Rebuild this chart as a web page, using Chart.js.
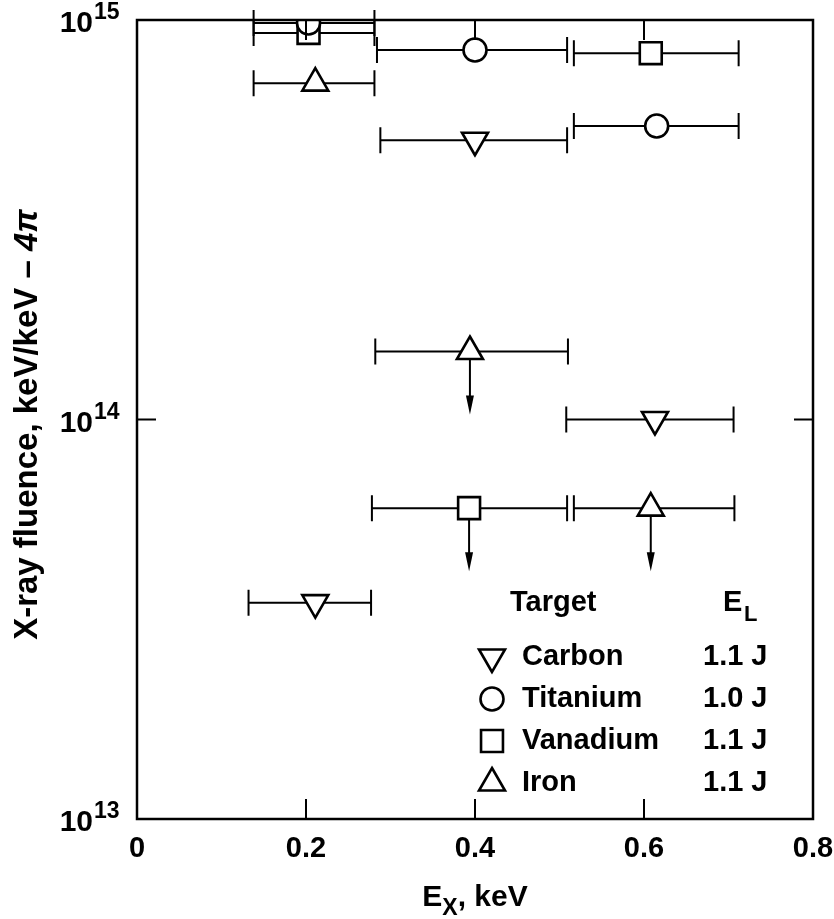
<!DOCTYPE html>
<html>
<head>
<meta charset="utf-8">
<script src="https://cdn.jsdelivr.net/npm/chart.js@4.4.1/dist/chart.umd.min.js"></script>
<style>
    html, body { margin: 0; padding: 0; background: #fff; }
</style>
</head>
<body>
<canvas id="myChart" width="834" height="919"></canvas>
<script>
// data (x in keV, y in keV/keV-4pi)
const xTicks = [0, 0.2, 0.4, 0.6, 0.8];
const yExponents = [13, 14, 15];

const targets = ['Carbon', 'Titanium', 'Vanadium', 'Iron'];
const laserEnergy = ['1.1 J', '1.0 J', '1.1 J', '1.1 J'];

const carbonX    = [0.211, 0.400, 0.613];
const carbonY    = [3.48e13, 5.0e14, 1.0e14];
const carbonXMin = [0.132, 0.288, 0.508];
const carbonXMax = [0.277, 0.509, 0.706];
const carbonLimit = [false, false, false];

const titaniumX    = [0.203, 0.400, 0.615];
const titaniumY    = [9.83e14, 8.41e14, 5.43e14];
const titaniumXMin = [0.138, 0.284, 0.517];
const titaniumXMax = [0.281, 0.509, 0.712];
const titaniumLimit = [false, false, false];

const vanadiumX    = [0.203, 0.393, 0.608];
const vanadiumY    = [9.28e14, 6.0e13, 8.26e14];
const vanadiumXMin = [0.138, 0.278, 0.517];
const vanadiumXMax = [0.281, 0.509, 0.712];
const vanadiumLimit = [false, true, false];

const ironX    = [0.211, 0.394, 0.608];
const ironY    = [6.95e14, 1.48e14, 6.0e13];
const ironXMin = [0.138, 0.282, 0.517];
const ironXMax = [0.281, 0.510, 0.707];
const ironLimit = [false, true, true];

const FONT = '"Liberation Sans", Arial, sans-serif';

function points(xs, ys, lo, hi, lim) {
    return xs.map((x, i) => ({ x: x, y: ys[i], xMin: lo[i], xMax: hi[i], limit: lim[i] }));
}

const markers = [
    { style: 'triangle', rotation: 180, radius: 15 },
    { style: 'circle', rotation: 0, radius: 11.5 },
    { style: 'rect', rotation: 0, radius: 15.5 },
    { style: 'triangle', rotation: 0, radius: 15 },
];

function drawMarker(ctx, m, x, y) {
    const r = m.radius;
    ctx.save();
    ctx.lineWidth = 2.6;
    ctx.strokeStyle = '#000';
    ctx.fillStyle = '#fff';
    ctx.beginPath();
    if (m.style === 'circle') {
        ctx.arc(x, y, r, 0, Math.PI * 2);
    } else if (m.style === 'rect') {
        const s = r * Math.SQRT1_2;
        ctx.rect(x - s, y - s, 2 * s, 2 * s);
    } else {
        let rad = m.rotation * Math.PI / 180;
        for (let k = 0; k < 3; k++) {
            const px = x + Math.sin(rad) * r, py = y - Math.cos(rad) * r;
            if (k === 0) ctx.moveTo(px, py); else ctx.lineTo(px, py);
            rad += Math.PI * 2 / 3;
        }
        ctx.closePath();
    }
    ctx.fill();
    ctx.stroke();
    ctx.restore();
}

// error bars, upper-limit arrows, frame, labels and legend
const paperPlugin = {
    id: 'paper',
    beforeDatasetsDraw(chart) {
        const ctx = chart.ctx;
        const xs = chart.scales.x, ys = chart.scales.y;
        ctx.save();
        ctx.strokeStyle = '#000';
        ctx.fillStyle = '#000';
        ctx.lineWidth = 2;
        chart.data.datasets.forEach(ds => {
            ds.data.forEach(p => {
                const y = ys.getPixelForValue(p.y);
                const x0 = xs.getPixelForValue(p.xMin), x1 = xs.getPixelForValue(p.xMax);
                ctx.beginPath();
                ctx.moveTo(x0, y); ctx.lineTo(x1, y);
                ctx.moveTo(x0, y - 13); ctx.lineTo(x0, y + 13);
                ctx.moveTo(x1, y - 13); ctx.lineTo(x1, y + 13);
                ctx.stroke();
                if (p.limit) {
                    const x = xs.getPixelForValue(p.x);
                    const tip = y + 63;
                    ctx.beginPath();
                    ctx.moveTo(x, y); ctx.lineTo(x, tip - 14);
                    ctx.stroke();
                    ctx.beginPath();
                    ctx.moveTo(x - 4, tip - 19); ctx.lineTo(x + 4, tip - 19); ctx.lineTo(x, tip);
                    ctx.closePath();
                    ctx.fill();
                }
            });
        });
        ctx.restore();
    },
    afterDatasetsDraw(chart) {
        const ctx = chart.ctx;
        const a = chart.chartArea;
        const xs = chart.scales.x, ys = chart.scales.y;
        ctx.save();
        ctx.strokeStyle = '#000';
        ctx.fillStyle = '#000';
        ctx.lineWidth = 2.5;
        ctx.strokeRect(a.left, a.top, a.right - a.left, a.bottom - a.top);

        // inner ticks
        ctx.lineWidth = 2;
        ctx.beginPath();
        xTicks.slice(1, -1).forEach(v => {
            const x = xs.getPixelForValue(v);
            ctx.moveTo(x, a.bottom); ctx.lineTo(x, a.bottom - 20);
            ctx.moveTo(x, a.top); ctx.lineTo(x, a.top + 20);
        });
        yExponents.slice(1, -1).forEach(e => {
            const y = ys.getPixelForValue(Math.pow(10, e));
            ctx.moveTo(a.left, y); ctx.lineTo(a.left + 19, y);
            ctx.moveTo(a.right, y); ctx.lineTo(a.right - 19, y);
        });
        ctx.stroke();

        // x tick labels
        ctx.font = 'bold 29px ' + FONT;
        ctx.textAlign = 'center';
        ctx.textBaseline = 'middle';
        xTicks.forEach(v => {
            ctx.fillText(String(v), xs.getPixelForValue(v), a.bottom + 30);
        });

        // y tick labels 10^n
        yExponents.forEach(e => {
            const y = ys.getPixelForValue(Math.pow(10, e));
            ctx.font = 'bold 30px ' + FONT;
            ctx.textAlign = 'right';
            ctx.textBaseline = 'alphabetic';
            ctx.fillText('10', 93, y + 12);
            ctx.font = 'bold 23px ' + FONT;
            ctx.textAlign = 'left';
            ctx.fillText(String(e), 94, y - 1);
        });

        // x axis title E_X, keV
        const tx = (a.left + a.right) / 2, tb = 906;
        ctx.textBaseline = 'alphabetic';
        ctx.textAlign = 'left';
        const big = 'bold 30px ' + FONT, small = 'bold 23px ' + FONT;
        ctx.font = big; const wE = ctx.measureText('E').width; const wRest = ctx.measureText(', keV').width;
        ctx.font = small; const wX = ctx.measureText('X').width;
        let cx = tx - (wE + wX + wRest) / 2;
        ctx.font = big; ctx.fillText('E', cx, tb); cx += wE;
        ctx.font = small; ctx.fillText('X', cx, tb + 9); cx += wX;
        ctx.font = big; ctx.fillText(', keV', cx, tb);

        // y axis title
        ctx.save();
        ctx.translate(37, (a.top + a.bottom) / 2 + 5);
        ctx.rotate(-Math.PI / 2);
        const t1 = 'X-ray fluence, keV/keV \u2013 ', t2 = '4\u03c0';
        const yf = 'bold 33px ' + FONT, yfi = 'italic bold 33px ' + FONT;
        ctx.font = yf; const w1 = ctx.measureText(t1).width;
        ctx.font = yfi; const w2 = ctx.measureText(t2).width;
        let sx = -(w1 + w2) / 2;
        ctx.font = yf; ctx.fillText(t1, sx, 0);
        ctx.font = yfi; ctx.fillText(t2, sx + w1, 0);
        ctx.restore();

        // legend
        ctx.font = 'bold 29px ' + FONT;
        ctx.textBaseline = 'middle';
        ctx.fillText('Target', 510, 603);
        ctx.fillText('E', 723, 603);
        ctx.font = 'bold 22px ' + FONT;
        ctx.fillText('L', 744, 615);
        targets.forEach((name, i) => {
            const y = 657 + i * 42;
            drawMarker(ctx, markers[i], 492, y);
            ctx.fillStyle = '#000';
            ctx.font = 'bold 29px ' + FONT;
            ctx.fillText(name, 522, y);
            ctx.fillText(laserEnergy[i], 703, y);
        });
        ctx.restore();
    }
};

const datasets = [
    points(carbonX, carbonY, carbonXMin, carbonXMax, carbonLimit),
    points(titaniumX, titaniumY, titaniumXMin, titaniumXMax, titaniumLimit),
    points(vanadiumX, vanadiumY, vanadiumXMin, vanadiumXMax, vanadiumLimit),
    points(ironX, ironY, ironXMin, ironXMax, ironLimit),
].map((data, i) => ({
    label: targets[i],
    data: data,
    showLine: false,
    pointStyle: markers[i].style,
    rotation: markers[i].rotation,
    radius: markers[i].radius,
    hoverRadius: markers[i].radius,
    pointBackgroundColor: '#fff',
    pointBorderColor: '#000',
    pointBorderWidth: 2.6,
}));

document.addEventListener('DOMContentLoaded', () => {
    const ctx = document.getElementById('myChart');
    new Chart(ctx, {
        type: 'scatter',
        data: { datasets: datasets },
        options: {
            responsive: false,
            animation: false,
            layout: { padding: { top: 20, right: 21, left: 0, bottom: 0 } },
            plugins: { legend: { display: false }, tooltip: { enabled: false } },
            scales: {
                x: {
                    type: 'linear',
                    min: xTicks[0],
                    max: xTicks[xTicks.length - 1],
                    grid: { display: false },
                    border: { display: false },
                    ticks: { display: false },
                    afterFit: s => { s.height = 100; },
                },
                y: {
                    type: 'logarithmic',
                    min: Math.pow(10, yExponents[0]),
                    max: Math.pow(10, yExponents[yExponents.length - 1]),
                    grid: { display: false },
                    border: { display: false },
                    ticks: { display: false },
                    afterBuildTicks: s => { s.ticks = yExponents.map(e => ({ value: Math.pow(10, e) })); },
                    afterFit: s => { s.width = 137; },
                }
            }
        },
        plugins: [paperPlugin]
    });
});
</script>
</body>
</html>
